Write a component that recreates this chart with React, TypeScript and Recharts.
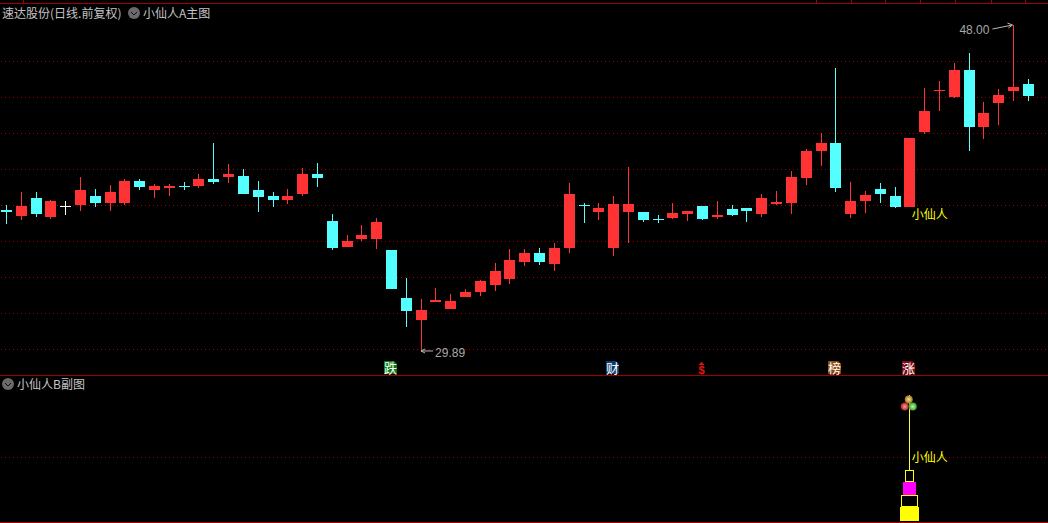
import React from "react";
import { ComposedChart, Bar, XAxis, YAxis, CartesianGrid, ReferenceDot } from "recharts";

const highs = [38.0, 38.72, 38.72, 38.28, 38.22, 39.56, 38.89, 39.11, 39.44, 39.44, 39.17, 39.17, 39.28, 39.72, 41.44, 40.28, 40.0, 39.33, 38.72, 38.89, 40.06, 40.33, 37.5, 36.33, 36.89, 37.28, 35.5, 33.94, 32.78, 33.39, 33.06, 33.33, 33.83, 34.78, 35.56, 35.56, 35.61, 35.89, 39.22, 38.11, 38.11, 38.5, 40.11, 37.61, 37.44, 38.11, 37.67, 37.94, 38.22, 38.0, 37.83, 38.61, 38.78, 39.89, 41.11, 42.0, 45.61, 39.28, 38.78, 39.22, 39.0, 41.72, 44.5, 44.89, 45.89, 46.44, 43.72, 44.44, 48.0, 45.0];
const lows = [36.94, 37.17, 37.33, 37.22, 37.44, 37.67, 37.89, 37.67, 38.0, 38.83, 38.39, 38.5, 38.83, 38.94, 39.17, 39.22, 38.61, 37.61, 37.89, 38.06, 38.5, 39.0, 35.5, 35.67, 36.0, 35.56, 33.33, 31.22, 29.89, 32.61, 32.22, 32.89, 32.94, 33.22, 33.61, 34.61, 34.67, 34.33, 35.33, 37.0, 37.17, 35.17, 35.89, 37.06, 37.0, 37.22, 37.11, 37.17, 37.22, 37.39, 37.06, 37.33, 38.0, 37.5, 39.11, 40.17, 38.72, 37.28, 37.56, 38.11, 37.83, 37.89, 41.94, 43.22, 43.94, 41.0, 41.67, 42.44, 43.78, 43.78];
const opens = [37.72, 37.39, 38.39, 37.33, 37.94, 38.0, 38.5, 38.11, 38.11, 39.33, 38.83, 38.94, 39.06, 39.06, 39.44, 39.56, 39.61, 38.83, 38.5, 38.28, 38.61, 39.72, 37.11, 35.67, 36.11, 36.11, 35.5, 32.83, 31.61, 32.61, 32.22, 32.89, 33.17, 33.56, 33.89, 34.83, 35.33, 34.72, 35.61, 38.0, 37.61, 35.61, 37.61, 37.61, 37.22, 37.28, 37.5, 37.94, 37.33, 37.78, 37.83, 37.5, 38.06, 38.11, 39.5, 41.0, 41.44, 37.5, 38.22, 38.89, 38.5, 37.89, 42.06, 44.33, 44.0, 45.5, 42.33, 43.67, 44.33, 44.72];
const closes = [37.61, 37.94, 37.5, 38.22, 37.94, 38.83, 38.11, 38.72, 39.33, 39.0, 39.06, 39.06, 39.0, 39.44, 39.28, 39.72, 38.61, 38.44, 38.28, 38.5, 39.72, 39.5, 35.61, 36.0, 36.33, 37.06, 33.33, 32.11, 32.17, 32.72, 32.67, 33.17, 33.78, 34.33, 34.94, 35.33, 34.83, 35.61, 38.61, 37.94, 37.83, 38.06, 38.06, 37.17, 37.17, 37.56, 37.67, 37.22, 37.44, 37.44, 37.67, 38.39, 38.17, 39.56, 41.0, 41.44, 38.94, 38.22, 38.56, 38.61, 37.89, 41.72, 43.22, 44.39, 45.5, 42.33, 43.11, 44.11, 44.56, 44.06];
const gridPrices = [30, 32, 34, 36, 38, 40, 42, 44, 46];

const signalLabels = ["跌", "财", "$", "榜", "涨"];
const signalIndexes = [26, 41, 47, 56, 61];
const signalFills = ["#0b7a12", "#0c3d6e", "#000000", "#8a4a0c", "#7a0a14"];
const signalInks = ["#ffffff", "#ffffff", "#f01010", "#ffffff", "#ffffff"];

// sub panel stack, one signal day only
const signalDay = 61;
const subSolid = [0.22];
const subHollow = [0.19];
const subMagenta = [0.2];
const subSmall = [0.19];
const subStem = [1.17];
const subGrid = [1];

const topTicks = [23, 816, 851, 885, 920, 955, 991, 1025];

const RED = "#ff3333";
const CYAN = "#54ffff";
const FONT = "'Noto Sans CJK SC', sans-serif";
const DIGITS = "'Liberation Sans', sans-serif";

const rows = highs.map((high, i) => ({
  i,
  range: [lows[i], high],
  high,
  low: lows[i],
  open: opens[i],
  close: closes[i],
}));

const subRows = highs.map((_, i) => ({
  i,
  solid: i === signalDay ? subSolid[0] : 0,
  hollow: i === signalDay ? subHollow[0] : 0,
  magenta: i === signalDay ? subMagenta[0] : 0,
  small: i === signalDay ? subSmall[0] : 0,
  stem: i === signalDay ? subStem[0] : 0,
}));

function Candle(props: any) {
  const { x, y, width, height, payload } = props;
  const { high, low, open, close } = payload;
  const at = (v: number) => y + ((high - v) / (high - low)) * height;
  const color = close === open ? "#ffffff" : close > open ? RED : CYAN;
  const top = Math.round(at(Math.max(open, close)));
  const bottom = Math.round(at(Math.min(open, close)));
  const left = Math.round(x);
  const w = Math.round(width);
  return (
    <g shapeRendering="crispEdges">
      <rect x={left + (w - 1) / 2} y={Math.round(y)} width={1} height={Math.max(1, Math.round(height))} fill={color} />
      <rect x={left} y={top} width={w} height={Math.max(1, bottom - top)} fill={color} />
    </g>
  );
}

function block(w: number, fill: string, stroke: string) {
  return (props: any) => {
    const { x, y, width, height } = props;
    if (!height) return <g />;
    const cx = Math.floor(x + width / 2);
    const left = cx - Math.floor(w / 2);
    const top = Math.round(y);
    const h = Math.round(height);
    return (
      <rect
        x={left + (stroke !== "none" ? 0.5 : 0)}
        y={top + (stroke !== "none" ? 0.5 : 0)}
        width={stroke !== "none" ? w - 1 : w}
        height={stroke !== "none" ? h - 1 : h}
        fill={fill}
        stroke={stroke}
        shapeRendering="crispEdges"
      />
    );
  };
}

// dotted grid runs the full panel width, past the plot area
function gridLine(props: any) {
  const y = Math.floor(props.y1) + 0.5;
  return <line key={props.key ?? props.index} x1={1} x2={1048} y1={y} y2={y} stroke="#a00000" strokeDasharray="1 3" shapeRendering="crispEdges" />;
}

function signalBadge(k: number) {
  return (props: any) => {
    const { cx, cy } = props;
    const left = Math.floor(cx) - 7;
    const top = Math.round(cy) - 7;
    if (signalLabels[k] === "$") {
      return (
        <g>
          <path d={`M${left + 6.5} ${top + 1}l3 3h-6z`} fill={signalInks[k]} />
          <text x={left + 6.5} y={top + 13} textAnchor="middle" fontSize={11} fontWeight={700} fontFamily={DIGITS} fill={signalInks[k]}>
            {signalLabels[k]}
          </text>
        </g>
      );
    }
    return (
      <g>
        <path d={`M${left} ${top}h10l3 3v10h-13z`} fill={signalFills[k]} />
        <text x={left + 6.5} y={top + 11.5} textAnchor="middle" fontSize={13} fontFamily={FONT} fill={signalInks[k]}>
          {signalLabels[k]}
        </text>
      </g>
    );
  };
}

function highNote(props: any) {
  const { cx, cy } = props;
  return (
    <g>
      <path d={`M${cx - 21} ${cy + 4}L${cx - 1} ${cy}M${cx - 6} ${cy - 2}L${cx - 1} ${cy}L${cx - 5} ${cy + 3}`} stroke="#b8b8b8" fill="none" />
      <text x={cx - 24} y={cy + 9} textAnchor="end" fontSize={12} fontFamily={DIGITS} fill="#a8a8a8">48.00</text>
    </g>
  );
}

function lowNote(props: any) {
  const { cx, cy } = props;
  return (
    <g>
      <path d={`M${cx} ${cy}H${cx + 12}M${cx + 4} ${cy - 2}L${cx} ${cy}L${cx + 4} ${cy + 2}`} stroke="#b8b8b8" fill="none" />
      <text x={cx + 14} y={cy + 6} fontSize={12} fontFamily={DIGITS} fill="#a8a8a8">29.89</text>
    </g>
  );
}

function nameTag(dy: number) {
  return (props: any) => {
    const { cx, cy } = props;
    return (
      <text x={cx + 2} y={cy + dy} fontSize={12} fontFamily={FONT} fill="#ffff00">小仙人</text>
    );
  };
}

function balls(props: any) {
  const { cx, cy } = props;
  return (
    <g>
      <defs>
        <radialGradient id="ballA"><stop offset="0%" stopColor="#f8e090" /><stop offset="100%" stopColor="#a07820" /></radialGradient>
        <radialGradient id="ballB"><stop offset="0%" stopColor="#f8a0a0" /><stop offset="100%" stopColor="#b02020" /></radialGradient>
        <radialGradient id="ballC"><stop offset="0%" stopColor="#c0f8a0" /><stop offset="100%" stopColor="#30a030" /></radialGradient>
      </defs>
      <circle cx={cx - 1} cy={cy - 4.5} r={4} fill="url(#ballA)" />
      <circle cx={cx - 5} cy={cy + 2.7} r={4} fill="url(#ballB)" />
      <circle cx={cx + 3} cy={cy + 2.7} r={4} fill="url(#ballC)" />
    </g>
  );
}

function Chevron({ x, y }: { x: number; y: number }) {
  return (
    <svg width={12} height={12} style={{ position: "absolute", left: x, top: y }}>
      <circle cx={6} cy={6} r={6} fill="#6a6a6a" />
      <path d="M3 5l3 3l3-3" stroke="#111" fill="none" strokeWidth={1} />
    </svg>
  );
}

function Caption({ x, y, children }: { x: number; y: number; children: React.ReactNode }) {
  return (
    <div style={{ position: "absolute", left: x, top: y, fontFamily: FONT, fontSize: 12, lineHeight: "14px", color: "#c4c4c4", whiteSpace: "nowrap" }}>
      {children}
    </div>
  );
}

export default function App() {
  return (
    <div style={{ position: "absolute", left: 0, top: 0, width: 1048, height: 523, background: "#000", overflow: "hidden" }}>
      <div style={{ position: "absolute", left: 0, top: 0 }}>
        <ComposedChart width={1048} height={376} data={rows} margin={{ top: 0, right: 12.35, bottom: 0, left: -1.05 }}>
          <CartesianGrid vertical={false} horizontalValues={gridPrices} horizontal={gridLine} />
          <XAxis dataKey="i" hide />
          <YAxis hide domain={[28.5, 49.39]} />
          <Bar dataKey="range" barSize={11} shape={Candle} isAnimationActive={false} />
          <ReferenceDot x={68} y={48} r={0} ifOverflow="visible" shape={highNote} />
          <ReferenceDot x={28} y={29.89} r={0} ifOverflow="visible" shape={lowNote} />
          <ReferenceDot x={61} y={37.89} r={0} ifOverflow="visible" shape={nameTag(12)} />
          {signalIndexes.map((idx, k) => (
            <ReferenceDot key={idx} x={idx} y={28.97} r={0} ifOverflow="visible" shape={signalBadge(k)} />
          ))}
        </ComposedChart>
      </div>
      <div style={{ position: "absolute", left: 0, top: 376 }}>
        <ComposedChart width={1048} height={147} data={subRows} margin={{ top: 0, right: 12.35, bottom: 2, left: -1.05 }}>
          <CartesianGrid vertical={false} horizontalValues={subGrid} horizontal={gridLine} />
          <XAxis dataKey="i" hide />
          <YAxis hide domain={[0, 2.266]} />
          <Bar dataKey="solid" stackId="s" barSize={11} shape={block(19, "#ffff00", "none")} isAnimationActive={false} />
          <Bar dataKey="hollow" stackId="s" barSize={11} shape={block(17, "#000000", "#ffff00")} isAnimationActive={false} />
          <Bar dataKey="magenta" stackId="s" barSize={11} shape={block(13, "#ff00ff", "none")} isAnimationActive={false} />
          <Bar dataKey="small" stackId="s" barSize={11} shape={block(9, "#000000", "#ffff00")} isAnimationActive={false} />
          <Bar dataKey="stem" stackId="s" barSize={11} shape={block(1, "#ffff33", "none")} isAnimationActive={false} />
          <ReferenceDot x={signalDay} y={1.83} r={0} ifOverflow="visible" shape={balls} />
          <ReferenceDot x={signalDay} y={1} r={0} ifOverflow="visible" shape={nameTag(5)} />
        </ComposedChart>
      </div>

      <div style={{ position: "absolute", left: 0, top: 3, width: 1048, height: 1, background: "#a00000" }} />
      <div style={{ position: "absolute", left: 0, top: 375, width: 1048, height: 1, background: "#a00000" }} />
      <div style={{ position: "absolute", left: 0, top: 522, width: 1048, height: 1, background: "#a00000" }} />
      {topTicks.map((x) => (
        <div key={x} style={{ position: "absolute", left: x, top: 0, width: 1, height: 3, background: "#a00000" }} />
      ))}

      <Caption x={2} y={6}>速达股份(日线.前复权)</Caption>
      <Chevron x={128} y={7} />
      <Caption x={143} y={6}>小仙人A主图</Caption>
      <Chevron x={2} y={378} />
      <Caption x={17} y={377}>小仙人B副图</Caption>
    </div>
  );
}
